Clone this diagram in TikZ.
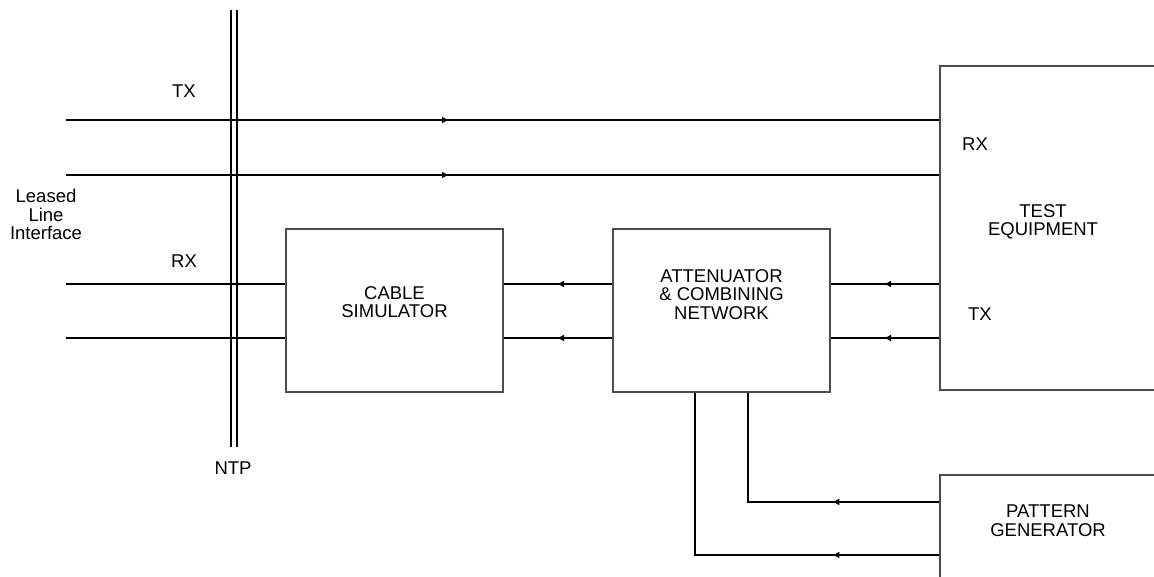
\documentclass[tikz,border=0pt]{standalone}
\usepackage{fontspec}
\setmainfont{Liberation Sans}
\usetikzlibrary{arrows.meta,decorations.markings}
\newcommand{\stk}[1]{\begin{tabular}[b]{@{}c@{}}#1\end{tabular}}

\begin{document}
\begin{tikzpicture}[
    x=1pt, y=-1pt,
    font={\fontsize{18.5}{18.5}\selectfont},
    box/.style={
        draw=black!70,
        line width=1.3pt,
        inner sep=0pt,
        minimum width=217pt,
        minimum height=163pt
    },
    lbl/.style={inner sep=0pt, anchor=base},
    wire/.style={line width=2pt},
    marr/.style={postaction={decorate,
        decoration={markings, mark=at position #1 with {\arrow{Triangle[length=6pt,width=6pt]}}}}}
]
\useasboundingbox (0,0) rectangle (1154,577);
\clip (0,0) rectangle (1154,577);

% blocks
\node[box, text depth=17pt] (cable) at (394.5,310.5) {\stk{CABLE\\SIMULATOR}};
\node[box, text depth=32pt] (att) at (721.5,310.5) {\stk{ATTENUATOR\\\& COMBINING\\NETWORK}};
\node[box, minimum width=240pt, minimum height=324pt] (test) at (1060,228) {};
\node[box, minimum width=240pt, minimum height=120pt] (pg) at (1060,535) {};

% texts
\node[lbl] (testtxt) at (1043,236) {\stk{TEST\\EQUIPMENT}};
\node[lbl] (pgtxt) at (1048,536) {\stk{PATTERN\\GENERATOR}};
\node[lbl] (rxin) at (975,151) {RX};
\node[lbl] (txin) at (980,321) {TX};
\node[lbl] (txout) at (184,98) {TX};
\node[lbl] (rxout) at (184,268) {RX};
\node[lbl] (ntptxt) at (233,474) {NTP};
\node[lbl] (lli) at (46,240) {\stk{Leased\\Line\\Interface}};

% network termination point
\coordinate (ntpa) at (230.5,10);
\coordinate (ntpb) at (230.5,447);
\draw[wire] (ntpa) -- (ntpb);
\draw[wire] ([xshift=6pt]ntpa) -- ([xshift=6pt]ntpb);

% line ends
\coordinate (tx1) at (66,120);
\coordinate (tx2) at (66,175);
\coordinate (rx1) at (66,284);
\coordinate (rx2) at (66,338);

\foreach \c in {tx1,tx2}
    \draw[wire, marr=382pt] (\c) -- (\c -| test.west);

\foreach \c in {rx1,rx2} {
    \draw[wire] (\c) -- (\c -| cable.west);
    \draw[wire, marr=0.5] (\c -| att.west) -- (\c -| cable.east);
    \draw[wire, marr=0.5] (\c -| test.west) -- (\c -| att.east);
}

% pattern generator feeds
\draw[wire, marr=106pt] ([yshift=33pt]pg.west) -| ([xshift=26.5pt]att.south);
\draw[wire, marr=106pt] ([yshift=-20pt]pg.west) -| ([xshift=-26.5pt]att.south);

\end{tikzpicture}
\end{document}
